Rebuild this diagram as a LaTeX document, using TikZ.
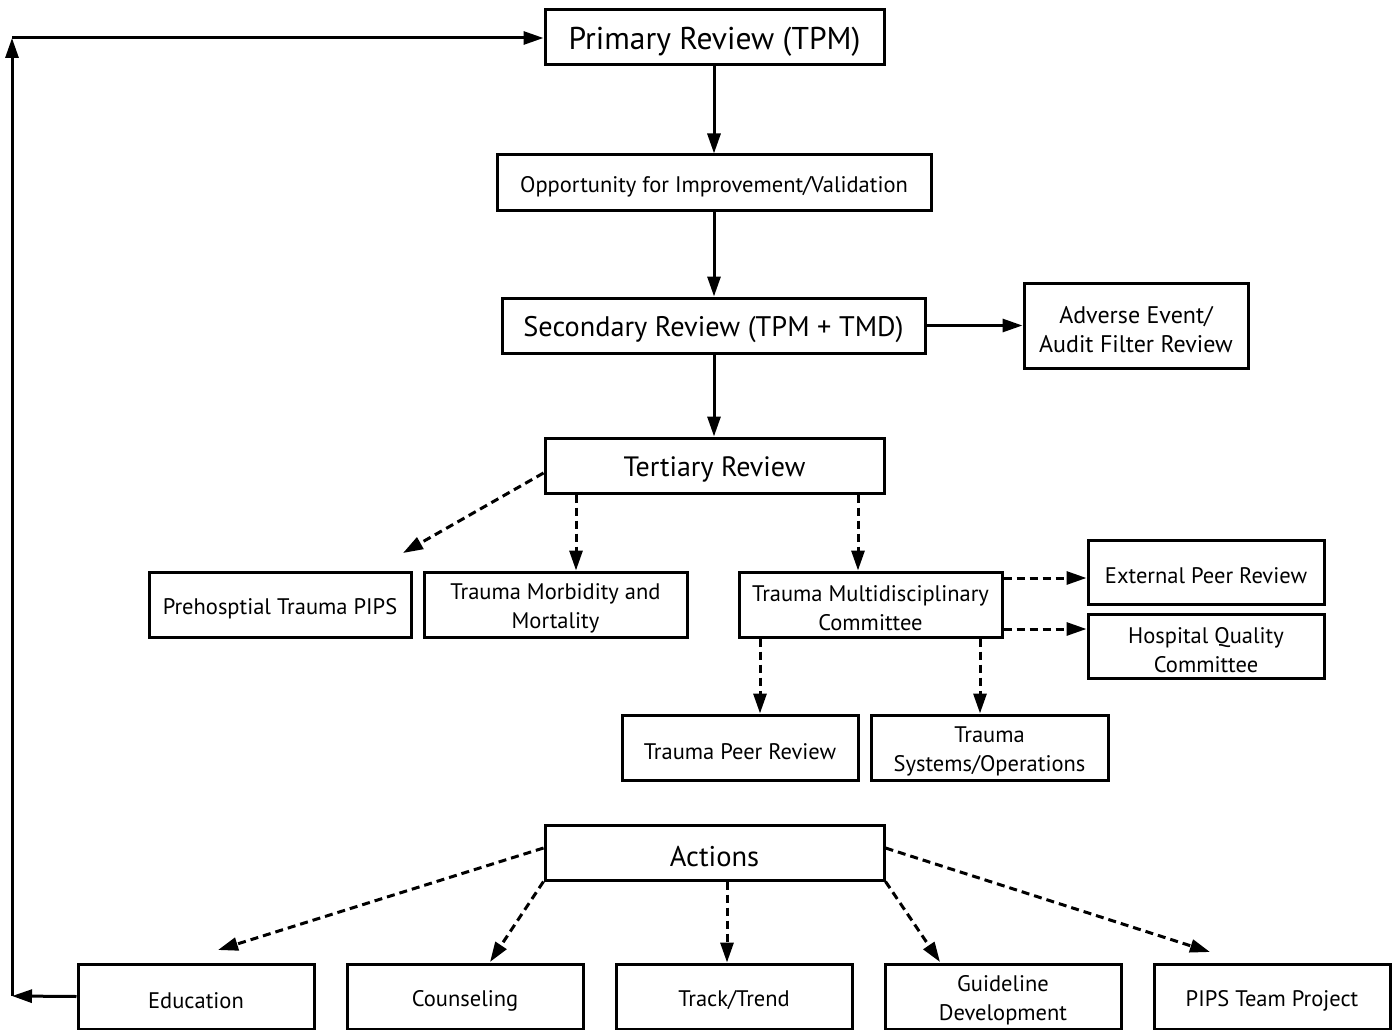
\documentclass[tikz,border=0pt]{standalone}
\usepackage{fontspec}
\setmainfont{PT Sans}
\usetikzlibrary{arrows.meta}
\tikzset{
  box/.style={draw, line width=3pt, inner sep=0pt},
  lbl/.style={inner sep=0pt, align=center, yshift=-4pt, font=\fontsize{22.5}{29}\selectfont},
  conn/.style={line width=3pt, -{Triangle[length=20pt,width=13pt]}},
  dconn/.style={conn, dash pattern=on 8pt off 5pt},
}
\newcommand{\bx}[6]{% name, x1, y1, x2, y2, text
  \node[box, minimum width={#4-#2}, minimum height={#5-#3}] (#1) at ({(#2+#4)/2},{(#3+#5)/2}) {};
  \node[lbl] (#1-t) at (#1.center) {#6};}
\begin{document}
\begin{tikzpicture}[x=1pt,y=-1pt]
\useasboundingbox (0,0) rectangle (1395,1030);
\bx{prim}{545}{10}{884}{65}{\fontsize{31.5}{34}\selectfont Primary Review (TPM)}
\bx{opp}{497}{155}{931}{210}{Opportunity for Improvement/Validation}
\bx{sec}{502}{298}{925}{353}{\fontsize{28.3}{32}\selectfont Secondary Review (TPM + TMD)}
\bx{adv}{1024}{283}{1248}{368}{\fontsize{24}{31}\selectfont Adverse Event/\\ \fontsize{24}{31}\selectfont Audit Filter Review}
\bx{ter}{545}{438}{884}{493}{\fontsize{28}{32}\selectfont Tertiary Review}
\bx{pre}{149}{572}{411}{637}{Prehosptial Trauma PIPS}
\bx{tmm}{424}{572}{687}{637}{Trauma Morbidity and\\Mortality}
\bx{tmc}{739}{572}{1002}{637}{Trauma Multidisciplinary\\Committee}
\bx{ext}{1088}{540}{1324}{604}{External Peer Review}
\bx{hqc}{1088}{614}{1324}{678}{Hospital Quality\\Committee}
\bx{tpr}{622}{715}{858}{780}{Trauma Peer Review}
\bx{tso}{871}{715}{1108}{780}{Trauma\\Systems/Operations}
\bx{act}{545}{825}{884}{880}{\fontsize{28.5}{32}\selectfont Actions}
\bx{edu}{78}{964}{314}{1029}{Education}
\bx{cou}{347}{964}{583}{1029}{Counseling}
\bx{trk}{616}{964}{852}{1029}{Track/Trend}
\bx{gui}{885}{964}{1121}{1029}{Guideline\\Development}
\bx{pip}{1154}{964}{1390}{1029}{PIPS Team Project}
\coordinate (c1) at (12,996);
\coordinate (c2) at (12,38);
% solid
\draw[conn] (prim.south -| 714,0) -- (opp.north -| 714,0);
\draw[conn] (opp.south -| 714,0) -- (sec.north -| 714,0);
\draw[conn] (sec.south -| 714,0) -- (ter.north -| 714,0);
\draw[conn] (sec.east) -- (sec.east -| adv.west);
\draw[conn] (edu.west) -- (c1);
\draw[conn] (c1) -- (c2);
\draw[conn] (c2) -- (c2 -| prim.west);
% dashed
\coordinate (p1) at (403,553);
\draw[dconn] (ter.west |- 0,473) -- (p1);
\draw[dconn] (ter.south -| 576,0) -- (tmm.north -| 576,0);
\draw[dconn] (ter.south -| 858,0) -- (tmc.north -| 858,0);
\draw[dconn] (tmc.east |- 0,578) -- (ext.west |- 0,578);
\draw[dconn] (tmc.east |- 0,629) -- (hqc.west |- 0,629);
\draw[dconn] (tmc.south -| 760,0) -- (tpr.north -| 760,0);
\draw[dconn] (tmc.south -| 980,0) -- (tso.north -| 980,0);
\coordinate (a1) at (218,950);
\coordinate (a2) at (490,962);
\coordinate (a4) at (940,962);
\coordinate (a5) at (1210,952);
\draw[dconn] (act.west |- 0,848) -- (a1);
\draw[dconn] (act.south west) -- (a2);
\draw[dconn] (act.south -| 727,0) -- (trk.north -| 727,0);
\draw[dconn] (act.south east) -- (a4);
\draw[dconn] (act.east |- 0,848) -- (a5);
\end{tikzpicture}
\end{document}
